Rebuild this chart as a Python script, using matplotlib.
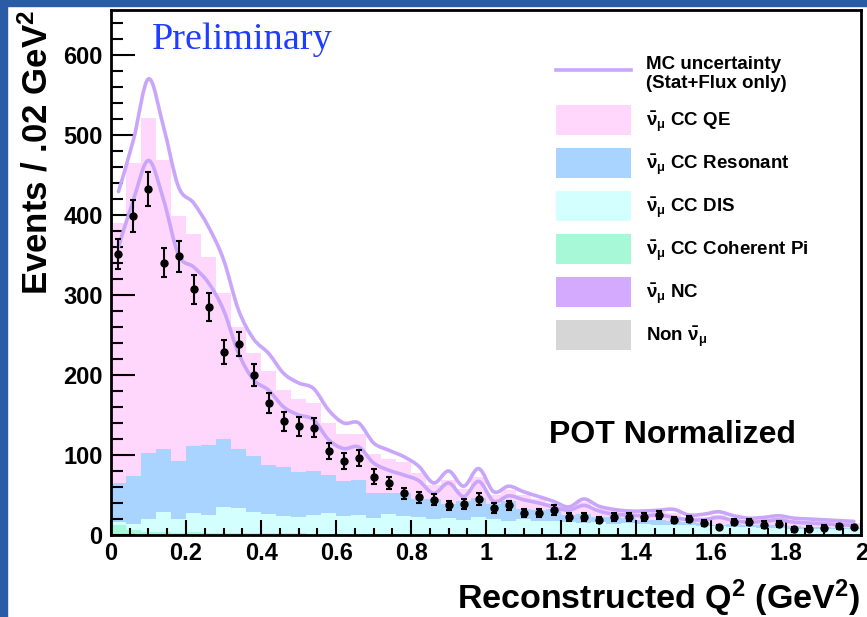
import numpy as np
import matplotlib
matplotlib.use('Agg')
import matplotlib.pyplot as plt
from matplotlib.patches import Rectangle, PathPatch
from matplotlib.path import Path
from matplotlib.lines import Line2D
from matplotlib.ticker import MultipleLocator, FuncFormatter

plt.rcParams['font.family'] = ['Liberation Sans', 'DejaVu Sans']
plt.rcParams['font.weight'] = 'bold'
plt.rcParams['mathtext.fontset'] = 'custom'
plt.rcParams['mathtext.rm'] = 'Liberation Sans'
plt.rcParams['mathtext.it'] = 'Liberation Sans'
plt.rcParams['mathtext.bf'] = 'Liberation Sans:bold'
plt.rcParams['mathtext.default'] = 'rm'

# reconstructed Q2 binning, 0.04 GeV^2 per bin
bin_edges = np.linspace(0, 2, 51)

data = [351, 398, 432, 340, 348, 307, 285, 229, 239, 200,
        165, 142, 136, 134, 105, 93, 96, 73, 65, 52,
        47, 44, 37, 39, 45, 34, 37, 28, 27, 31,
        22, 23, 19, 22, 22, 22, 25, 19, 20, 15,
        10, 16, 16, 13, 14, 7, 8, 9, 11, 10]
data_err = [19, 20, 21, 18, 19, 18, 17, 15, 15, 14,
            13, 12, 12, 12, 10, 10, 10, 9, 8, 7,
            7, 7, 6, 6, 7, 6, 6, 5, 5, 6,
            5, 5, 4, 5, 5, 5, 5, 4, 4, 4,
            3, 4, 4, 4, 4, 3, 3, 3, 3, 3]

# stacked MC, cumulative heights of each layer
qe_top = [390, 465, 521, 468, 398, 376, 347, 303, 260, 227,
          205, 181, 170, 165, 140, 126, 126, 101, 95, 91,
          78, 62, 69, 58, 72, 50, 56, 50, 45, 40,
          35, 41, 34, 31, 29, 28, 29, 27, 22, 23,
          25, 21, 19, 20, 21, 19, 18, 17, 16, 15]
res_top = [65, 74, 103, 107, 93, 111, 112, 120, 107, 99,
           87, 85, 79, 80, 75, 67, 69, 53, 53, 52,
           45, 45, 39, 43, 46, 39, 42, 33, 31, 33,
           25, 26, 23, 22, 21, 19, 19, 17, 16, 15,
           13, 14, 13, 12, 12, 11, 10, 10, 9, 9]
dis_top = [16, 14, 20, 29, 20, 28, 25, 35, 34, 29,
           26, 24, 23, 25, 27, 24, 25, 21, 26, 24,
           22, 20, 21, 19, 22, 20, 18, 20, 17, 18,
           16, 15, 16, 14, 15, 14, 13, 12, 12, 11,
           11, 10, 10, 9, 9, 8, 8, 7, 7, 7]
coh_top = [13, 6, 4, 4, 3, 4, 3, 3, 2, 2,
           2, 2, 2, 1.5, 1.5, 1.5, 1.5, 1.5, 1.5, 1.5,
           1, 1, 1, 1, 1, 1, 1, 1, 1, 1,
           1, 1, 1, 1, 1, 1, 1, 1, 1, 1,
           1, 1, 1, 1, 1, 1, 1, 1, 1, 1]
nc_top = [1.0, 0.8, 0.8, 0.8, 0.6, 0.6, 0.6, 0.6, 0.5, 0.5,
          0.5, 0.5, 0.5, 0.5, 0.5, 0.5, 0.5, 0.5, 0.5, 0.5,
          0.4, 0.4, 0.4, 0.4, 0.4, 0.4, 0.4, 0.4, 0.4, 0.4,
          0.4, 0.4, 0.4, 0.4, 0.4, 0.4, 0.4, 0.4, 0.4, 0.4,
          0.4, 0.4, 0.4, 0.4, 0.4, 0.4, 0.4, 0.4, 0.4, 0.4]
non_top = [0.3, 0.3, 0.3, 0.3, 0.3, 0.3, 0.3, 0.3, 0.3, 0.3,
           0.2, 0.2, 0.2, 0.2, 0.2, 0.2, 0.2, 0.2, 0.2, 0.2,
           0.2, 0.2, 0.2, 0.2, 0.2, 0.2, 0.2, 0.2, 0.2, 0.2,
           0.2, 0.2, 0.2, 0.2, 0.2, 0.2, 0.2, 0.2, 0.2, 0.2,
           0.2, 0.2, 0.2, 0.2, 0.2, 0.2, 0.2, 0.2, 0.2, 0.2]

# MC uncertainty band edges (stat + flux)
mc_hi = [429, 494, 570, 510, 435, 415, 385, 344, 281, 245,
         227, 202, 190, 183, 156, 140, 140, 115, 106, 98,
         86, 65, 80, 61, 83, 54, 61, 54, 48, 42,
         35, 45, 36, 32, 30, 30, 31, 32, 25, 26,
         29, 24, 21, 22, 24, 21, 20, 19, 18, 17]
mc_lo = [360, 419, 468, 419, 350, 335, 315, 281, 227, 194,
         181, 160, 150, 144, 119, 108, 110, 90, 81, 75,
         68, 52, 65, 48, 67, 42, 49, 44, 40, 35,
         31, 37, 30, 26, 25, 24, 25, 22, 19, 19,
         22, 18, 16, 17, 19, 16, 15, 14, 13, 12]

nub = r'$\bar{\nu}_{\mu}$'
layers = [
    (qe_top, res_top, '#ffd6fc', nub + ' CC QE'),
    (res_top, dis_top, '#a9d4ff', nub + ' CC Resonant'),
    (dis_top, coh_top, '#d4ffff', nub + ' CC DIS'),
    (coh_top, nc_top, '#a6f8d6', nub + ' CC Coherent Pi'),
    (nc_top, non_top, '#d4aaff', nub + ' NC'),
    (non_top, np.zeros(50), '#d6d6d6', 'Non ' + nub),
]
band_color = '#c9a6fa'

centers = 0.5 * (bin_edges[1:] + bin_edges[:-1])


def smooth_curve(x, y):
    # ROOT-like "C" drawing: cubic segments passing through every point
    p = np.column_stack([x, y]).astype(float)
    ext = np.vstack([p[0], p, p[-1]])
    verts = [p[0]]
    codes = [Path.MOVETO]
    for i in range(len(p) - 1):
        c1 = ext[i + 1] + (ext[i + 2] - ext[i]) / 6
        c2 = ext[i + 2] - (ext[i + 3] - ext[i + 1]) / 6
        verts += [c1, c2, p[i + 1]]
        codes += [Path.CURVE4] * 3
    return Path(verts, codes)


fig = plt.figure(figsize=(8.67, 6.17), dpi=100)
fig.add_artist(Rectangle((0, 0), 7 / 867, 1, transform=fig.transFigure,
                         color='#2b5aa6', zorder=0))
fig.add_artist(Rectangle((0, 1 - 6 / 617), 1, 6 / 617, transform=fig.transFigure,
                         color='#2b5aa6', zorder=0))

ax = fig.add_axes([0.128, 0.1329, 0.8656, 0.8509])

handles = []
for top, base, col, lab in layers:
    h = ax.stairs(top, bin_edges, baseline=np.asarray(base, float), fill=True,
                  color=col, label=lab, zorder=1)
    handles.append(h)

for band in (mc_hi, mc_lo):
    ax.add_patch(PathPatch(smooth_curve(centers, band), fill=False,
                           edgecolor=band_color, lw=2.6, zorder=2,
                           joinstyle='round', capstyle='round'))
band_handle = Line2D([], [], color=band_color, lw=2.6)

ax.errorbar(centers, data, yerr=data_err, fmt='o', color='k', ms=5,
            elinewidth=1.5, capsize=2.5, capthick=1.5, zorder=3)

ax.set_xlim(0, 2)
ax.set_ylim(0, 656)
ax.xaxis.set_major_locator(MultipleLocator(0.2))
ax.xaxis.set_minor_locator(MultipleLocator(0.05))
ax.yaxis.set_major_locator(MultipleLocator(100))
ax.yaxis.set_minor_locator(MultipleLocator(20))
ax.xaxis.set_major_formatter(FuncFormatter(lambda v, p: '%g' % round(v, 2)))
ax.tick_params(which='both', direction='in', top=False, right=False, width=1.5,
               labelsize=17)
ax.tick_params(axis='x', which='major', length=11, pad=5)
ax.tick_params(axis='x', which='minor', length=5)
ax.tick_params(axis='y', which='major', length=17, pad=6)
ax.tick_params(axis='y', which='minor', length=8.5)
for s in ax.spines.values():
    s.set_linewidth(2)
    s.set_zorder(5)

ax.legend([band_handle] + handles,
          ['MC uncertainty\n(Stat+Flux only)'] + [h.get_label() for h in handles],
          loc='upper left', bbox_to_anchor=(0.593, 0.913), frameon=False,
          fontsize=13.5, handlelength=4.0, handleheight=2.1, handletextpad=0.8,
          labelspacing=0.68, borderpad=0, borderaxespad=0)

ax.text(0.055, 0.943, 'Preliminary', transform=ax.transAxes, color='#1f3dff',
        family='Liberation Serif', weight='normal', fontsize=27.5, va='center')
ax.text(0.584, 0.19, 'POT Normalized', transform=ax.transAxes, fontsize=23,
        va='center')

fig.text(0.992, 0.031, r'Reconstructed Q$^{\mathbf{2}}$ (GeV$^{\mathbf{2}}$)',
         ha='right', va='center', fontsize=24.5)
fig.text(0.043, 0.985, r'Events / .02 GeV$^{\mathbf{2}}$', rotation=90,
         ha='center', va='top', fontsize=25)

fig.savefig('out.png', dpi=100)
